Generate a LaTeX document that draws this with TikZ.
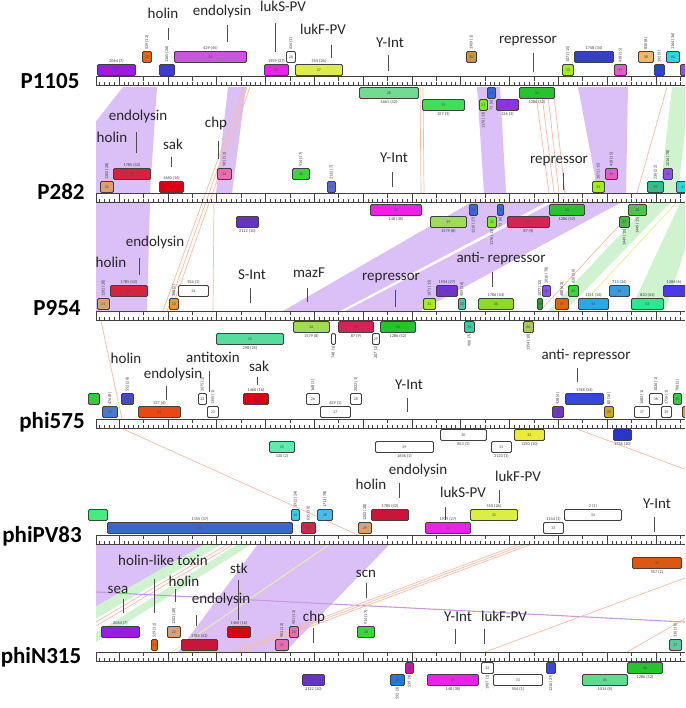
\documentclass[tikz,border=0pt]{standalone}
\usepackage{fontspec}
\setmainfont{Carlito}
\usepackage{xcolor}
% gene colours
\definecolor{cViolet}{HTML}{9A1BE6}
\definecolor{cOrange}{HTML}{E8641C}
\definecolor{cBlue}{HTML}{3B3BE0}
\definecolor{cOrchid}{HTML}{C955DE}
\definecolor{cMagenta}{HTML}{EC22EC}
\definecolor{cYellow}{HTML}{DCEE44}
\definecolor{cMint}{HTML}{6FDC92}
\definecolor{cGreen}{HTML}{3CE05C}
\definecolor{cTan}{HTML}{C99540}
\definecolor{cLime}{HTML}{7AEE22}
\definecolor{cBlueB}{HTML}{3566EC}
\definecolor{cPurple}{HTML}{8A35EC}
\definecolor{cGreenD}{HTML}{22C62A}
\definecolor{cLimeB}{HTML}{A2EE18}
\definecolor{cNavy}{HTML}{3440C8}
\definecolor{cPink}{HTML}{EC58CC}
\definecolor{cSand}{HTML}{ECBA68}
\definecolor{cBlueC}{HTML}{2244EC}
\definecolor{cCyan}{HTML}{22DCDC}
\definecolor{cLilac}{HTML}{9050EC}
\definecolor{cTanB}{HTML}{DEA06A}
\definecolor{cCrimson}{HTML}{D8203F}
\definecolor{cRed}{HTML}{DC0011}
\definecolor{cPinkB}{HTML}{EC6CB0}
\definecolor{cIndigo}{HTML}{6632CC}
\definecolor{cGreenB}{HTML}{36DA36}
\definecolor{cSlate}{HTML}{5868DC}
\definecolor{cOliveL}{HTML}{9EDC58}
\definecolor{cCrimsonB}{HTML}{D82255}
\definecolor{cGreenE}{HTML}{48B848}
\definecolor{cGreenF}{HTML}{48C848}
\definecolor{cTeal}{HTML}{34BC8C}
\definecolor{cAmber}{HTML}{EC9A22}
\definecolor{cJade}{HTML}{58DC9C}
\definecolor{cIndigoB}{HTML}{7234CC}
\definecolor{cTealB}{HTML}{38CCA0}
\definecolor{cLimeC}{HTML}{8CDC22}
\definecolor{cOlive}{HTML}{A8CA58}
\definecolor{cGreenG}{HTML}{22A822}
\definecolor{cOrangeB}{HTML}{EC6200}
\definecolor{cSky}{HTML}{22AAEC}
\definecolor{cSteel}{HTML}{3A9ADC}
\definecolor{cSpring}{HTML}{22EC8C}
\definecolor{cBlueD}{HTML}{4A3AEC}
\definecolor{cSteelB}{HTML}{4A78CC}
\definecolor{cBlueE}{HTML}{4848CC}
\definecolor{cVermil}{HTML}{EC4612}
\definecolor{cAqua}{HTML}{5CECAC}
\definecolor{cLemon}{HTML}{ECEC36}
\definecolor{cNavyB}{HTML}{3448DC}
\definecolor{cGold}{HTML}{CCAA14}
\definecolor{cNavyC}{HTML}{2436CC}
\definecolor{cGreenH}{HTML}{36CC36}
\definecolor{cSpringB}{HTML}{48EC7A}
\definecolor{cBlueF}{HTML}{3868CC}
\definecolor{cCyanB}{HTML}{36CCEC}
\definecolor{cCrimsonC}{HTML}{CC2848}
\definecolor{cSkyB}{HTML}{48BCEC}
\definecolor{cCrimsonD}{HTML}{CC1436}
\definecolor{cOrangeC}{HTML}{DC5812}
\definecolor{cAzure}{HTML}{2278DC}
\definecolor{cMagentaB}{HTML}{CC14AA}
\definecolor{cBlueG}{HTML}{3448EC}
\definecolor{cJadeB}{HTML}{5CDC8C}
\definecolor{cTealC}{HTML}{58CC9C}
% comparison colours
\definecolor{bandPur}{HTML}{DBC0F7}
\definecolor{bandGrn}{HTML}{CFF3CF}
\definecolor{bandSal}{HTML}{F7BBA4}
\definecolor{bandYel}{HTML}{E6F2A8}

\begin{document}
\begin{tikzpicture}[x=1pt, y=-1pt,
    gene/.style={draw=black!75, line width=0.9pt, rounded corners=1.2pt, minimum height=11pt,
      inner sep=0pt, anchor=west, font=\fontsize{4}{4}\selectfont, text=black!70},
    num/.style={font=\fontsize{4.3}{4.3}\selectfont, text=black!75, inner sep=1pt},
    upnum/.style={num, rotate=90, anchor=west},
    dnnum/.style={num, rotate=90, anchor=east},
    feat/.style={font=\fontsize{15}{15}\selectfont, text=black!85, inner sep=0pt, anchor=base},
    track/.style={font=\fontsize{23}{23}\selectfont\bfseries, inner sep=0pt, anchor=base},
    pin/.style={draw=black!70, line width=0.6pt},
    rul/.style={draw=black!75, line width=1pt},
    tck/.style={draw=black!75, line width=0.6pt},
    pband/.style={fill=bandPur},
    gband/.style={fill=bandGrn},
    sline/.style={draw=bandSal, line width=0.7pt},
    yline/.style={draw=bandYel, line width=0.9pt}]
\useasboundingbox (0,0) rectangle (685,708);
\clip (0,0) rectangle (685,708);

% Homology bands between neighbouring genomes
\begin{scope}
\clip (96,0) rectangle (685,708);
% P1105 -- P282
\fill[pband] (123,87) -- (157,87) -- (150,193) -- (40,193) -- cycle;
\fill[pband] (228,87) -- (246,87) -- (232,193) -- (216,193) -- cycle;
\fill[pband] (477,87) -- (500,87) -- (506,193) -- (484,193) -- cycle;
\fill[pband] (578,87) -- (628,87) -- (626,193) -- (598,193) -- cycle;
\fill[gband] (672,87) -- (690,87) -- (678,193) -- (660,193) -- cycle;
\draw[sline] (535,87) -- (549,193);
\draw[sline] (541,87) -- (554,193);
\draw[sline] (547,87) -- (559,193);
\draw[sline] (553,87) -- (565,193);
\draw[sline] (420,87) -- (421,193);
\draw[sline] (423,87) -- (424,193);
\draw[sline] (667,87) -- (637,193);
\draw[sline] (244,87) -- (163,311);
\draw[sline] (247,87) -- (167,311);
\draw[sline] (250,87) -- (171,311);
% P282 -- P954
\fill[pband] (60,203) -- (150,203) -- (147,311) -- (60,311) -- cycle;
\fill[pband] (470,203) -- (545,203) -- (340,311) -- (283,311) -- cycle;
\fill[pband] (552,203) -- (620,203) -- (420,311) -- (345,311) -- cycle;
\fill[gband] (650,203) -- (670,203) -- (565,311) -- (548,311) -- cycle;
\fill[gband] (680,203) -- (700,203) -- (665,311) -- (630,311) -- cycle;
\draw[yline] (676,203) -- (576,311);
\draw[sline] (214,203) -- (213,311);
\draw[sline] (640,203) -- (540,311);
% P954 -- phi575
\draw[sline] (101,321) -- (122,419);
% phi575 -- phiPV83
\draw[sline] (123,429) -- (358,535);
\draw[sline] (577,429) -- (700,475);
% phiPV83 -- phiN315
\fill[pband] (60,544) -- (205,544) -- (60,630) -- cycle;
\fill[gband] (205,544) -- (222,544) -- (60,640) -- (60,627) -- cycle;
\draw[sline] (228,544) -- (96,622);
\draw[sline] (234,544) -- (96,626);
\fill[gband] (238,544) -- (252,544) -- (96,642) -- (96,633) -- cycle;
\fill[pband] (258,544) -- (390,544) -- (285,652) -- (178,652) -- cycle;
\draw[yline] (172,652) -- (330,544);
\draw[draw=bandPur!80!violet, line width=1.1pt] (96,592) -- (685,622);
\draw[sline] (230,652) -- (520,544);
\draw[sline] (236,652) -- (526,544);
\draw[sline] (242,652) -- (532,544);
\draw[sline] (485,652) -- (685,578);
\draw[sline] (627,652) -- (700,610);
\end{scope}

% Rulers
\foreach \ty in {77,194,311,419,535,652} {
  \draw[rul] (96,\ty) -- (685,\ty);
  \draw[rul] (96,\ty+9) -- (685,\ty+9);
  \draw[tck] (96,\ty) -- (96,\ty+9);
  \foreach \tx in {99.48,104.36,...,685} \draw[tck] (\tx,\ty+9) -- (\tx,\ty+5.5);
  \foreach \tx in {143.4,192.2,...,685} \draw[tck] (\tx,\ty) -- (\tx,\ty+4);
  \foreach \tx in {119,167.8,...,685} \draw[tck] (\tx,\ty) -- (\tx,\ty+9);
}

% Genome names
\node[track] (nP1105) at (50,89) {P1105};
\node[track] (nP282) at (61,200) {P282};
\node[track] (nP954) at (57,315) {P954};
\node[track] (nphi575) at (52,428) {phi575};
\node[track] (nphiPV83) at (42,542) {phiPV83};
\node[track] (nphiN315) at (41,663) {phiN315};

% P1105 genes
\node[gene, fill=cViolet, minimum width=38, label={[num]above:2064 (7)}] (p1105g21) at (97,70) {21};
\node[gene, fill=cOrange, minimum width=9, label={[upnum]above:529 (12)}] (p1105g22) at (142,57) {22};
\node[gene, fill=cBlue, minimum width=15, label={[upnum]above:1365 (26)}] (p1105g23) at (159,70) {23};
\node[gene, fill=cOrchid, minimum width=72, label={[num]above:429 (45)}] (p1105g24) at (174,57) {24};
\node[gene, fill=cMagenta, minimum width=24, label={[num]above:1939 (27)}] (p1105g25) at (264,70) {25};
\node[gene, fill=white, minimum width=9, label={[upnum]above:524 (1)}] (p1105g26) at (286,57) {26};
\node[gene, fill=cYellow, minimum width=47, label={[num]above:555 (26)}] (p1105g27) at (295,70) {27};
\node[gene, fill=cMint, minimum width=59, label={[num]below:1661 (42)}] (p1105g28) at (359,93) {28};
\node[gene, fill=cGreen, minimum width=42, label={[num]below:257 (3)}] (p1105g29) at (422,105) {29};
\node[gene, fill=cTan, minimum width=10, label={[upnum]above:1909 (3)}] (p1105g30) at (466,57) {30};
\node[gene, fill=cLime, minimum width=8, label={[dnnum]below:1176 (13)}] (p1105g31) at (479,105) {31};
\node[gene, fill=cBlueB, minimum width=8, label={[dnnum]below:72 (6)}] (p1105g32) at (487,93) {32};
\node[gene, fill=cPurple, minimum width=22, label={[num]below:136 (2)}] (p1105g33) at (496,105) {33};
\node[gene, fill=cGreenD, minimum width=35, label={[num]below:1286 (52)}] (p1105g34) at (519,93) {34};
\node[gene, fill=cLimeB, minimum width=11, label={[upnum]above:1071 (15)}] (p1105g35) at (562,70) {35};
\node[gene, fill=cNavy, minimum width=39, label={[num]above:1748 (34)}] (p1105g36) at (574,57) {36};
\node[gene, fill=cPink, minimum width=12, label={[upnum]above:418 (15)}] (p1105g37) at (614,70) {37};
\node[gene, fill=cSand, minimum width=15, label={[upnum]above:830 (8)}] (p1105g38) at (638,57) {38};
\node[gene, fill=cBlueC, minimum width=10, label={[upnum]above:192 (9)}] (p1105g39) at (654,70) {39};
\node[gene, fill=cCyan, minimum width=13, label={[upnum]above:1164 (36)}] (p1105g40) at (666,57) {40};
\node[gene, fill=cLilac, minimum width=12] (p1105g41) at (680,70) {};

% P282 genes
\node[gene, fill=cTanB, minimum width=13, label={[upnum]above:1202 (28)}] (p282g21) at (100,187) {21};
\node[gene, fill=cCrimson, minimum width=37, label={[num]above:1785 (42)}] (p282g22) at (113,174) {22};
\node[gene, fill=cRed, minimum width=24, label={[num]above:1460 (16)}] (p282g23) at (159,187) {23};
\node[gene, fill=cPinkB, minimum width=14, label={[upnum]above:901 (12)}] (p282g24) at (217,174) {24};
\node[gene, fill=cIndigo, minimum width=22, label={[num]below:2122 (10)}] (p282g25) at (236,222) {25};
\node[gene, fill=cGreenB, minimum width=17, label={[upnum]above:914 (17)}] (p282g26) at (292,174) {26};
\node[gene, fill=cSlate, minimum width=8, label={[upnum]above:2132 (7)}] (p282g27) at (327,187) {27};
\node[gene, fill=cMagenta, minimum width=51, label={[num]below:148 (38)}] (p282g28) at (370,210) {28};
\node[gene, fill=cOliveL, minimum width=36, label={[num]below:1579 (8)}] (p282g29) at (430,222) {29};
\node[gene, fill=cBlueB, minimum width=8, label={[dnnum]below:1210 (27)}] (p282g30) at (469,210) {30};
\node[gene, fill=cLime, minimum width=9, label={[dnnum]below:1176 (13)}] (p282g31) at (487,222) {31};
\node[gene, fill=cBlueB, minimum width=6, label={[dnnum]below:72 (6)}] (p282g32) at (497,210) {32};
\node[gene, fill=cCrimsonB, minimum width=42, label={[num]below:87 (9)}] (p282g33) at (507,222) {33};
\node[gene, fill=cGreenD, minimum width=35, label={[num]below:1286 (52)}] (p282g34) at (549,210) {34};
\node[gene, fill=cLimeB, minimum width=12, label={[upnum]above:1071 (15)}] (p282g35) at (592,187) {35};
\node[gene, fill=cPink, minimum width=12, label={[upnum]above:418 (15)}] (p282g36) at (605,174) {36};
\node[gene, fill=cGreenE, minimum width=10, label={[dnnum]below:1449 (10)}] (p282g37) at (619,222) {37};
\node[gene, fill=cGreenF, minimum width=18, label={[dnnum]below:1449 (15)}] (p282g38) at (628,210) {38};
\node[gene, fill=cTeal, minimum width=16, label={[upnum]above:236 (22)}] (p282g39) at (647,187) {39};
\node[gene, fill=cLilac, minimum width=9, label={[upnum]above:2016 (78)}] (p282g40) at (663,174) {40};
\node[gene, fill=cCyan, minimum width=14] (p282g41) at (676,187) {41};

% P954 genes
\node[gene, fill=cTanB, minimum width=12, label={[upnum]above:1202 (28)}] (p954g21) at (97,304) {21};
\node[gene, fill=cCrimson, minimum width=37, label={[num]above:1785 (42)}] (p954g22) at (110,291) {22};
\node[gene, fill=cAmber, minimum width=9, label={[upnum]above:300 (2)}] (p954g23) at (169,304) {23};
\node[gene, fill=white, minimum width=30, label={[num]above:924 (1)}] (p954g24) at (178,291) {24};
\node[gene, fill=cJade, minimum width=67, label={[num]below:298 (25)}] (p954g25) at (216,339) {25};
\node[gene, fill=cOliveL, minimum width=36, label={[num]below:1579 (8)}] (p954g26) at (293,327) {26};
\node[gene, fill=white, minimum width=4, label={[dnnum]below:748 (1)}] (p954g27) at (331,339) {};
\node[gene, fill=cCrimsonB, minimum width=35, label={[num]below:87 (9)}] (p954g28) at (338,327) {28};
\node[gene, fill=white, minimum width=7, label={[dnnum]below:207 (1)}] (p954g29) at (372,339) {29};
\node[gene, fill=cGreenD, minimum width=35, label={[num]below:1286 (52)}] (p954g30) at (380,327) {30};
\node[gene, fill=cLimeB, minimum width=12, label={[upnum]above:1071 (15)}] (p954g31) at (423,304) {31};
\node[gene, fill=cIndigoB, minimum width=21, label={[num]above:1934 (27)}] (p954g32) at (436,291) {32};
\node[gene, fill=cTealB, minimum width=7, label={[upnum]above:909 (36)}] (p954g33) at (458,304) {33};
\node[gene, fill=cTealB, minimum width=10, label={[dnnum]below:906 (7)}] (p954g34) at (464,327) {34};
\node[gene, fill=cLimeC, minimum width=35, label={[num]above:1786 (44)}] (p954g35) at (478,304) {35};
\node[gene, fill=cOlive, minimum width=10, label={[dnnum]below:1354 (10)}] (p954g36) at (523,327) {36};
\node[gene, fill=cGreenG, minimum width=5, label={[upnum]above:1077 (12)}] (p954g37) at (537,304) {37};
\node[gene, fill=cLilac, minimum width=8, label={[upnum]above:2016 (78)}] (p954g38) at (542,291) {38};
\node[gene, fill=cOrangeB, minimum width=13, label={[upnum]above:488 (62)}] (p954g39) at (555,304) {39};
\node[gene, fill=cGreenB, minimum width=10, label={[upnum]above:626 (36)}] (p954g40) at (568,291) {40};
\node[gene, fill=cSky, minimum width=30, label={[num]above:1251 (16)}] (p954g41) at (578,304) {41};
\node[gene, fill=cSteel, minimum width=20, label={[num]above:715 (34)}] (p954g42) at (609,291) {42};
\node[gene, fill=cSpring, minimum width=32, label={[num]above:820 (61)}] (p954g43) at (631,304) {43};
\node[gene, fill=cBlueD, minimum width=37, label={[num, xshift=-8pt]above:1286 (6)}] (p954g44) at (663,291) {44};

% phi575 genes
\node[gene, fill=cGreenH, minimum width=11] (phi575g18) at (88,399) {};
\node[gene, fill=cSteelB, minimum width=15, label={[upnum]above:476 (8)}] (phi575g19) at (102,412) {19};
\node[gene, fill=cBlueE, minimum width=12, label={[upnum]above:552 (26)}] (phi575g20) at (121,399) {20};
\node[gene, fill=cVermil, minimum width=42, label={[num]above:537 (4)}] (phi575g21) at (138,412) {21};
\node[gene, fill=white, minimum width=8, label={[upnum]above:2075 (2)}] (phi575g22) at (198,399) {22};
\node[gene, fill=white, minimum width=11, label={[upnum]above:1355 (1)}] (phi575g23) at (207,412) {23};
\node[gene, fill=cRed, minimum width=25, label={[num]above:1460 (16)}] (phi575g24) at (243,399) {24};
\node[gene, fill=cAqua, minimum width=25, label={[num]below:130 (2)}] (phi575g25) at (269,447) {25};
\node[gene, fill=white, minimum width=13, label={[upnum]above:168 (1)}] (phi575g26) at (306,399) {26};
\node[gene, fill=white, minimum width=30, label={[num]above:629 (1)}] (phi575g27) at (320,412) {27};
\node[gene, fill=white, minimum width=11, label={[upnum]above:2022 (1)}] (phi575g28) at (350,399) {28};
\node[gene, fill=white, minimum width=58, label={[num]below:1656 (1)}] (phi575g29) at (375,447) {29};
\node[gene, fill=white, minimum width=46, label={[num]below:853 (1)}] (phi575g30) at (440,435) {30};
\node[gene, fill=white, minimum width=20, label={[num]below:2123 (1)}] (phi575g31) at (491,447) {31};
\node[gene, fill=cLemon, minimum width=30, label={[num]below:1250 (10)}] (phi575g32) at (514,435) {32};
\node[gene, fill=cIndigoB, minimum width=11, label={[upnum]above:928 (4)}] (phi575g33) at (552,412) {33};
\node[gene, fill=cNavyB, minimum width=38, label={[num]above:1748 (34)}] (phi575g34) at (565,399) {34};
\node[gene, fill=cGold, minimum width=9, label={[upnum]above:80 (16)}] (phi575g35) at (604,412) {35};
\node[gene, fill=cNavyC, minimum width=18, label={[num]below:1736 (10)}] (phi575g36) at (613,435) {36};
\node[gene, fill=white, minimum width=15, label={[upnum]above:1682 (1)}] (phi575g37) at (634,412) {37};
\node[gene, fill=white, minimum width=13, label={[upnum]above:1036 (1)}] (phi575g38) at (649,399) {38};
\node[gene, fill=white, minimum width=10, label={[upnum]above:1756 (1)}] (phi575g39) at (661,412) {39};
\node[gene, fill=cGreenH, minimum width=8, label={[upnum]above:700 (2)}] (phi575g40) at (673,399) {40};
\node[gene, fill=cAmber, minimum width=12] (phi575g41) at (682,412) {};

% phiPV83 genes
\node[gene, fill=cSpringB, minimum width=19] (phipv83g24) at (88,515) {};
\node[gene, fill=cBlueF, minimum width=185, label={[num]above:1155 (37)}] (phipv83g25) at (107,528) {25};
\node[gene, fill=cCyanB, minimum width=8, label={[upnum]above:1912 (24)}] (phipv83g26) at (291,515) {26};
\node[gene, fill=cCrimsonC, minimum width=14, label={[upnum]above:635 (30)}] (phipv83g27) at (301,528) {27};
\node[gene, fill=cSkyB, minimum width=15, label={[upnum]above:1713 (78)}] (phipv83g28) at (317,515) {28};
\node[gene, fill=cTanB, minimum width=13, label={[upnum]above:1202 (28)}] (phipv83g29) at (358,528) {29};
\node[gene, fill=cCrimsonD, minimum width=37, label={[num]above:1785 (42)}] (phipv83g30) at (371,515) {30};
\node[gene, fill=cMagenta, minimum width=45, label={[num]above:1939 (27)}] (phipv83g31) at (425,528) {31};
\node[gene, fill=cYellow, minimum width=47, label={[num]above:555 (26)}] (phipv83g32) at (470,515) {32};
\node[gene, fill=white, minimum width=20, label={[num]above:1144 (1)}] (phipv83g33) at (543,528) {33};
\node[gene, fill=white, minimum width=57, label={[num]above:2 (1)}] (phipv83g34) at (564,515) {34};
\node[gene, fill=cOrangeC, minimum width=49, label={[num]below:557 (2)}] (phipv83g35) at (632,563) {35};

% phiN315 genes
\node[gene, fill=cViolet, minimum width=38, label={[num]above:2064 (7)}] (phin315g20) at (101,632) {20};
\node[gene, fill=cOrangeB, minimum width=6, label={[upnum]above:529 (12)}] (phin315g21) at (151,645) {21};
\node[gene, fill=cTanB, minimum width=13, label={[upnum]above:1202 (28)}] (phin315g22) at (167,632) {22};
\node[gene, fill=cCrimsonD, minimum width=36, label={[num]above:1785 (42)}] (phin315g23) at (181,645) {23};
\node[gene, fill=cRed, minimum width=23, label={[num]above:1460 (16)}] (phin315g24) at (227,632) {24};
\node[gene, fill=cPinkB, minimum width=13, label={[upnum]above:901 (12)}] (phin315g25) at (275,645) {25};
\node[gene, fill=cPinkB, minimum width=9, label={[upnum]above:901 (12)}] (phin315g26) at (289,632) {26};
\node[gene, fill=cIndigo, minimum width=22, label={[num]below:2122 (10)}] (phin315g27) at (302,680) {27};
\node[gene, fill=cGreenB, minimum width=17, label={[upnum]above:914 (17)}] (phin315g28) at (357,632) {28};
\node[gene, fill=cAzure, minimum width=14, label={[dnnum]below:592 (3)}] (phin315g29) at (390,680) {29};
\node[gene, fill=cMagentaB, minimum width=8, label={[dnnum]below:539 (9)}] (phin315g30) at (405,668) {30};
\node[gene, fill=cMagenta, minimum width=51, label={[num]below:148 (38)}] (phin315g31) at (427,680) {31};
\node[gene, fill=white, minimum width=12, label={[dnnum]below:1907 (1)}] (phin315g32) at (481,668) {32};
\node[gene, fill=white, minimum width=49, label={[num]below:554 (1)}] (phin315g33) at (493,680) {33};
\node[gene, fill=cBlueG, minimum width=9, label={[dnnum]below:1210 (27)}] (phin315g34) at (546,668) {34};
\node[gene, fill=cJadeB, minimum width=45, label={[num]below:1014 (8)}] (phin315g35) at (582,680) {35};
\node[gene, fill=cGreenD, minimum width=35, label={[num]below:1286 (52)}] (phin315g36) at (627,668) {36};
\node[gene, fill=cTealC, minimum width=12, label={[upnum]above:336 (10)}] (phin315g37) at (669,645) {37};

% Gene annotations
\node[feat] (fP1105holin) at (163,19) {holin};
\draw[pin] (168,28) -- (168,40);
\node[feat] (fP1105endo) at (222,16) {endolysin};
\draw[pin] (227,25) -- (227,42);
\node[feat] (fP1105lukS) at (283,12) {lukS-PV};
\draw[pin] (275,23) -- (275,52);
\node[feat] (fP1105lukF) at (323,35) {lukF-PV};
\draw[pin] (331,45) -- (331,58);
\node[feat] (fP1105yint) at (390,48) {Y-Int};
\draw[pin] (388,55) -- (388,71);
\node[feat] (fP1105rep) at (528,44) {repressor};
\draw[pin] (533,53) -- (533,72);

\node[feat] (fP282holin) at (112,143) {holin};
\node[feat] (fP282endo) at (138,121) {endolysin};
\draw[pin] (136,132) -- (136,153);
\node[feat] (fP282sak) at (173,150) {sak};
\draw[pin] (171,157) -- (171,167);
\node[feat] (fP282chp) at (216,128) {chp};
\draw[pin] (218,141) -- (218,159);
\node[feat] (fP282yint) at (394,163) {Y-Int};
\draw[pin] (392,172) -- (392,187);
\node[feat] (fP282rep) at (559,164) {repressor};
\draw[pin] (563,173) -- (563,190);

\node[feat] (fP954holin) at (111,267) {holin};
\node[feat] (fP954endo) at (155,247) {endolysin};
\draw[pin] (139,258) -- (139,275);
\node[feat] (fP954sint) at (252,279) {S-Int};
\draw[pin] (250,288) -- (250,303);
\node[feat] (fP954mazf) at (309,277) {mazF};
\draw[pin] (307,288) -- (307,302);
\node[feat] (fP954rep) at (391,280) {repressor};
\draw[pin] (395,290) -- (395,307);
\node[feat] (fP954anti) at (501,262) {anti- repressor};
\draw[pin] (492,272) -- (492,287);

\node[feat] (fphi575holin) at (126,363) {holin};
\node[feat] (fphi575antitox) at (213,362) {antitoxin};
\draw[pin] (209,371) -- (209,392);
\node[feat] (fphi575endo) at (173,378) {endolysin};
\draw[pin] (166,386) -- (166,400);
\node[feat] (fphi575sak) at (259,371) {sak};
\draw[pin] (257,377) -- (257,385);
\node[feat] (fphi575yint) at (409,389) {Y-Int};
\draw[pin] (407,398) -- (407,412);
\node[feat] (fphi575anti) at (586,359) {anti- repressor};
\draw[pin] (577,368) -- (577,382);

\node[feat] (fphiPVholin) at (371,489) {holin};
\node[feat] (fphiPVendo) at (418,474) {endolysin};
\draw[pin] (399,483) -- (399,498);
\node[feat] (fphiPVlukS) at (463,497) {lukS-PV};
\draw[pin] (445,507) -- (445,520);
\node[feat] (fphiPVlukF) at (518,481) {lukF-PV};
\draw[pin] (499,490) -- (499,503);
\node[feat] (fphiPVyint) at (657,508) {Y-Int};
\draw[pin] (654,517) -- (654,532);

\node[feat] (fphiNsea) at (118,593) {sea};
\draw[pin] (123,599) -- (123,613);
\node[feat] (fphiNhlt) at (163,565) {holin-like toxin};
\draw[pin] (154,579) -- (154,613);
\node[feat] (fphiNholin) at (184,586) {holin};
\draw[pin] (175,589) -- (175,602);
\node[feat] (fphiNendo) at (221,603) {endolysin};
\draw[pin] (196,615) -- (196,626);
\node[feat] (fphiNstk) at (239,573) {stk};
\draw[pin] (238,580) -- (238,620);
\node[feat] (fphiNchp) at (314,621) {chp};
\draw[pin] (313,628) -- (313,643);
\node[feat] (fphiNscn) at (366,577) {scn};
\draw[pin] (366,583) -- (366,598);
\node[feat] (fphiNyint) at (458,621) {Y-Int};
\draw[pin] (455,629) -- (455,644);
\node[feat] (fphiNlukF) at (504,621) {lukF-PV};
\draw[pin] (484,629) -- (484,644);
\end{tikzpicture}
\end{document}
